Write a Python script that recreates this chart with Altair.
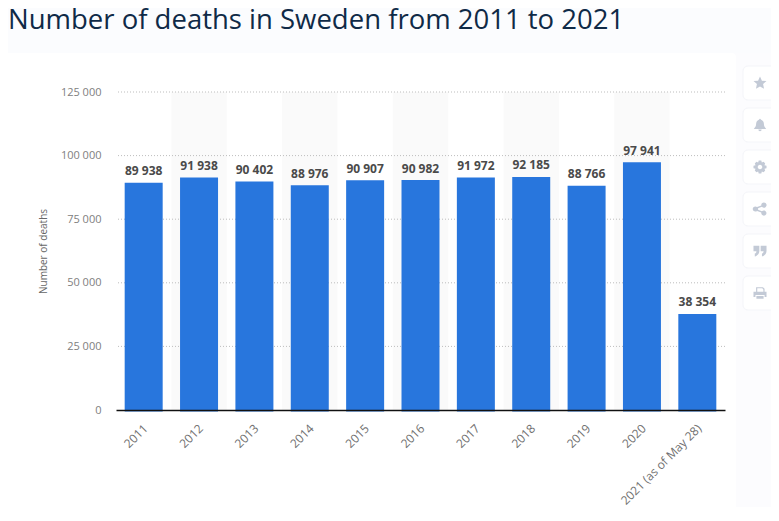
import altair as alt
import pandas as pd

page_title = "Number of deaths in Sweden from 2011 to 2021"
years = ["2011","2012","2013","2014","2015","2016","2017","2018","2019","2020","2021 (as of May 28)"]
deaths = [89938,91938,90402,88976,90907,90982,91972,92185,88766,97941,38354]
labels = ["89 938","91 938","90 402","88 976","90 907","90 982","91 972","92 185","88 766","97 941","38 354"]
banded = ["2012","2014","2016","2018","2020"]
y_ticks = [0,25000,50000,75000,100000,125000]

FONT = "Open Sans"
W, H = 609, 318
PAD = {"left":108,"top":84,"right":46,"bottom":97}

df = pd.DataFrame({"year":years,"deaths":deaths,"label":labels})
bands = pd.DataFrame({"year":banded,"low":[0]*5,"high":[125000]*5})
one = pd.DataFrame({"a":[0]})

xs = alt.Scale(domain=years, paddingInner=0, paddingOuter=0)
ys = alt.Scale(domain=[0,125000], nice=False)

# page furniture, plot-area pixels
side = alt.Chart(one).mark_rect(color="#fcfcfe").encode(
    x=alt.value(610), x2=alt.value(655), y=alt.value(-39), y2=alt.value(423))
card = alt.Chart(one).mark_rect(color="white", cornerRadius=4).encode(
    x=alt.value(-111), x2=alt.value(620), y=alt.value(-39), y2=alt.value(423))
title = alt.Chart(one).mark_text(text=page_title, font=FONT, fontSize=27.5, color="#0f2a47", align="left",
                                 baseline="alphabetic").encode(x=alt.value(-108), y=alt.value(-63))

x_enc = alt.X("year:N", scale=xs, sort=years, title=None,
              axis=alt.Axis(labelAngle=-45, labelAlign="right", labelBaseline="middle", labelFont=FONT,
                            labelFontSize=12, labelColor="#707070", labelPadding=16, labelOffset=2, ticks=False,
                            domainColor="#111111", domainWidth=1.5, labelOverlap=False, labelLimit=0,
                            grid=False, zindex=2))
y_enc = alt.Y("deaths:Q", scale=ys, title="Number of deaths",
              axis=alt.Axis(values=y_ticks, labelExpr="replace(format(datum.value, ','), ',', ' ')",
                            labelFont=FONT, labelFontSize=11, labelColor="#808080", labelPadding=15,
                            ticks=False, domain=False, grid=False,
                            titleFont=FONT, titleFontSize=10, titleColor="#666666", titleFontWeight="normal",
                            titlePadding=12, zindex=2))

band_layer = alt.Chart(bands).mark_rect(color="#fafafa").encode(
    x=alt.X("year:N", scale=xs, title=None), y=alt.Y("low:Q", scale=ys, title="Number of deaths"), y2="high:Q")

grid = alt.Chart(pd.DataFrame({"v":y_ticks[1:]})).mark_rule(color="#bdbdbd", strokeDash=[1,2], strokeWidth=1).encode(
    y=alt.Y("v:Q", scale=ys, title="Number of deaths"))

bars = alt.Chart(df).mark_bar(color="#2876dd", size=38, yOffset=1.5, y2Offset=0).encode(x=x_enc, y=y_enc)

text = alt.Chart(df).mark_text(font=FONT, fontSize=12, fontWeight="bold", color="#4a4a4a",
                               baseline="alphabetic", dy=-6).encode(
    x=alt.X("year:N", scale=xs, title=None), y=alt.Y("deaths:Q", scale=ys, title="Number of deaths"), text="label:N")

# side buttons
btn_tops = [-26,16,58,100,142,184]
icon_paths = [
 "M0,-1 L0.29,-0.33 L1,-0.3 L0.47,0.16 L0.62,0.9 L0,0.52 L-0.62,0.9 L-0.47,0.16 L-1,-0.3 L-0.29,-0.33 Z",
 "M-0.12,-0.85 A0.12,0.12 0 0 1 0.12,-0.85 C0.5,-0.7 0.6,-0.4 0.6,-0.1 C0.6,0.2 0.75,0.4 0.95,0.6 L-0.95,0.6 C-0.75,0.4 -0.6,0.2 -0.6,-0.1 C-0.6,-0.4 -0.5,-0.7 -0.12,-0.85 Z M-0.25,0.7 L0.25,0.7 A0.25,0.25 0 0 1 -0.25,0.7 Z",
 "M-0.2,-1 L0.2,-1 L0.28,-0.68 L0.55,-0.8 L0.8,-0.55 L0.68,-0.28 L1,-0.2 L1,0.2 L0.68,0.28 L0.8,0.55 L0.55,0.8 L0.28,0.68 L0.2,1 L-0.2,1 L-0.28,0.68 L-0.55,0.8 L-0.8,0.55 L-0.68,0.28 L-1,0.2 L-1,-0.2 L-0.68,-0.28 L-0.8,-0.55 L-0.55,-0.8 L-0.28,-0.68 Z M0,-0.35 A0.35,0.35 0 1 0 0,0.35 A0.35,0.35 0 1 0 0,-0.35 Z",
 "M0.6,-1 A0.4,0.4 0 1 1 0.3,-0.35 L-0.3,-0.1 A0.4,0.4 0 0 1 -0.3,0.1 L0.3,0.35 A0.4,0.4 0 1 1 0.2,0.55 L-0.45,0.3 A0.4,0.4 0 1 1 -0.45,-0.3 L0.2,-0.55 A0.4,0.4 0 0 1 0.6,-1 Z",
 "M-1,-0.8 L-0.1,-0.8 L-0.1,0 C-0.1,0.4 -0.4,0.75 -0.8,0.85 L-0.8,0.4 C-0.6,0.35 -0.55,0.2 -0.55,0.05 L-1,0.05 Z M0.1,-0.8 L1,-0.8 L1,0 C1,0.4 0.7,0.75 0.3,0.85 L0.3,0.4 C0.5,0.35 0.55,0.2 0.55,0.05 L0.1,0.05 Z",
 "M-0.6,-0.9 L0.45,-0.9 L0.7,-0.65 L0.7,-0.2 L1,-0.2 L1,0.6 L0.7,0.6 L0.7,0.3 L-0.7,0.3 L-0.7,0.6 L-1,0.6 L-1,-0.2 L-0.6,-0.2 Z M-0.42,-0.72 L-0.42,-0.2 L0.52,-0.2 L0.52,-0.55 L0.35,-0.72 Z M-0.55,0.45 L0.55,0.45 L0.55,0.9 L-0.55,0.9 Z",
]
extras = []
for top, p in zip(btn_tops, icon_paths):
    extras.append(alt.Chart(one).mark_rect(color="white", cornerRadius=5, stroke="#f4f5f9", strokeWidth=1).encode(
        x=alt.value(627), x2=alt.value(661), y=alt.value(top), y2=alt.value(top+34)))
    extras.append(alt.Chart(one).mark_point(shape=p, filled=True, color="#c3cad6", opacity=1, size=170).encode(
        x=alt.value(644), y=alt.value(top+17)))

chart = alt.layer(side, card, title, band_layer, grid, bars, text, *extras).properties(
    width=W, height=H,
    padding=PAD,
    background="#fbfcfe",
    autosize=alt.AutoSizeParams(type="none"),
).configure_view(stroke=None)

chart.save("out.html", embed_options={"renderer": "svg", "actions": False})
